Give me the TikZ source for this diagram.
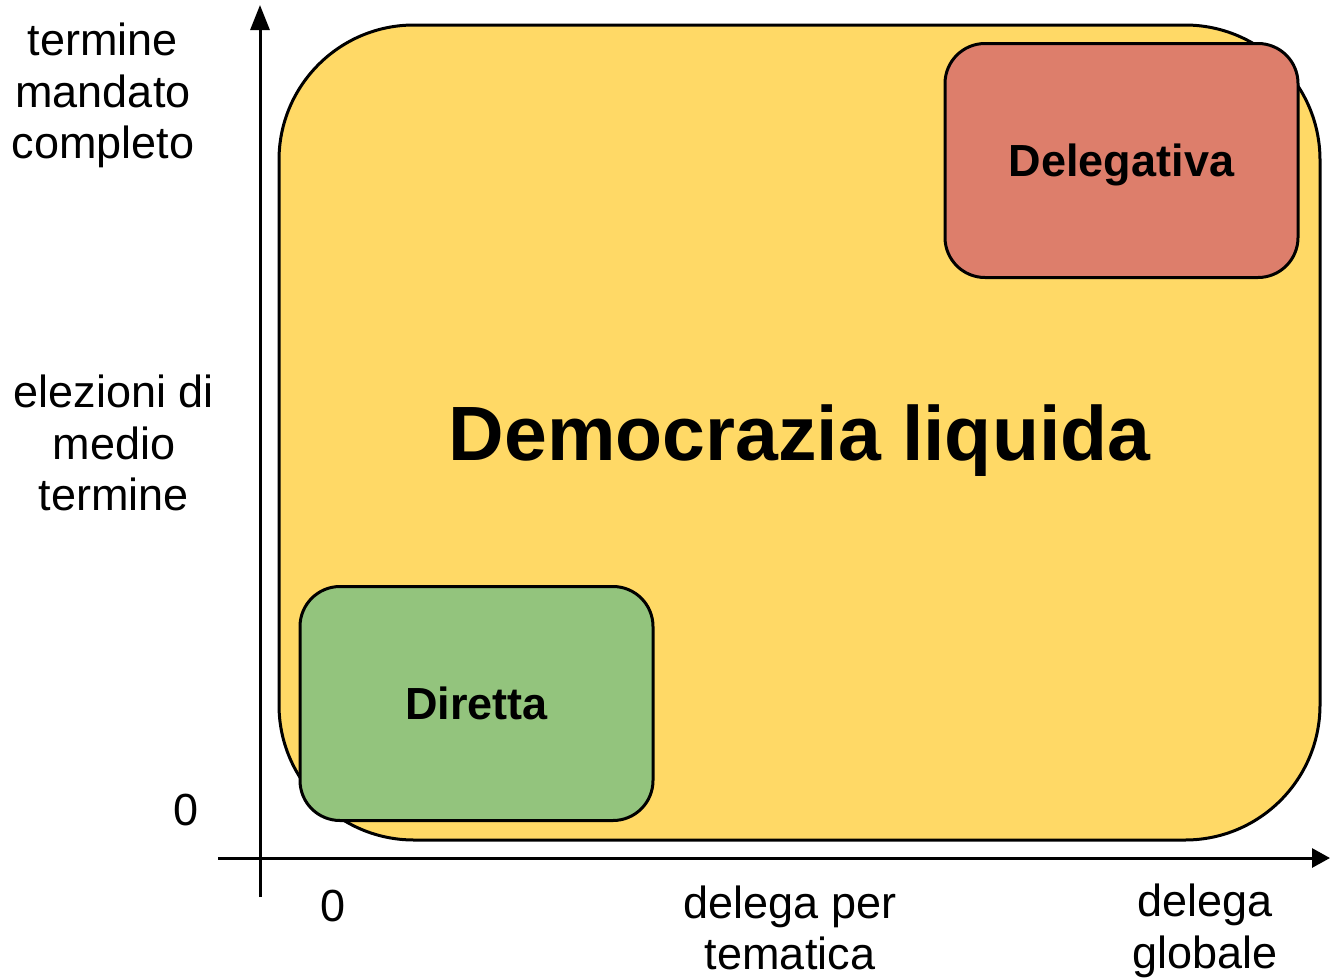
\documentclass[tikz,border=0pt]{standalone}
\usepackage{fontspec}
\setmainfont{Liberation Sans}
\usetikzlibrary{arrows.meta}
\definecolor{liquidyellow}{RGB}{255,217,102}
\definecolor{delegred}{RGB}{221,126,107}
\definecolor{directgreen}{RGB}{147,196,125}
\begin{document}
\begin{tikzpicture}[
        x=1pt, y=-1pt,
        box/.style={draw, line width=3pt, rounded corners=40pt, minimum width=353pt, minimum height=234pt, inner sep=0pt, text depth=0pt, align=center, font=\fontsize{45}{52}\selectfont\bfseries},
        axis/.style={-{Triangle[length=25pt, width=19pt]}, line width=3pt},
        lab/.style={align=center, inner sep=0pt, font=\fontsize{45}{51.5}\selectfont}
    ]
        \useasboundingbox (0,0) rectangle (1330,977);
        % Regions
        \node[box, fill=liquidyellow, rounded corners=135pt, minimum width=1041pt, minimum height=815pt, font=\fontsize{77}{90}\selectfont\bfseries] (liquida) at (799.5,432.5) {Democrazia liquida};
        \node[box, fill=delegred] (delegativa) at (1121.5,160.5) {Delegativa};
        \node[box, fill=directgreen] (diretta) at (476.5,703.5) {Diretta};

        % Axes
        \coordinate (yfrom) at (260,897);
        \coordinate (yto) at (260,5);
        \coordinate (xfrom) at (218,858);
        \coordinate (xto) at (1330,858);
        \draw[axis] (yfrom) -- (yto);
        \draw[axis, -{Triangle[length=18pt, width=19pt]}] (xfrom) -- (xto);

        % Axis labels
        \node[lab] (ytop) at (103,95.5) {termine\\mandato\\completo};
        \node[lab] (ymid) at (114,443) {elezioni di\\medio\\termine};
        \node[lab] (yzero) at (186,810) {0};
        \node[lab] (xzero) at (333,906) {0};
        \node[lab] (xmid) at (790,928) {delega per\\tematica};
        \node[lab] (xend) at (1205,931) {delega\\globale};
    \end{tikzpicture}
\end{document}
